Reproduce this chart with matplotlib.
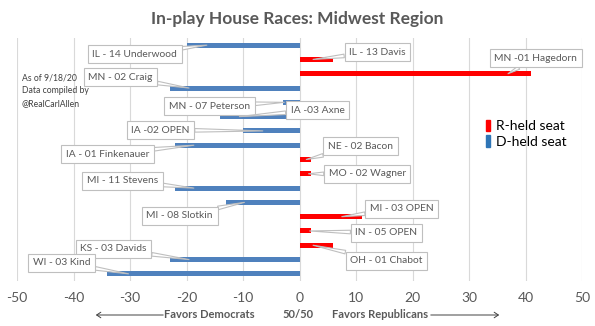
import numpy as np
import matplotlib
matplotlib.use("Agg")
import matplotlib.pyplot as plt
from matplotlib.patches import Patch, FancyArrowPatch

# races listed top to bottom as in the chart
races = [
    "IL - 14 Underwood", "IL - 13 Davis", "MN -01 Hagedorn", "MN - 02 Craig",
    "MN - 07 Peterson", "IA -03 Axne", "IA -02 OPEN", "IA - 01 Finkenauer",
    "NE - 02 Bacon", "MO - 02 Wagner", "MI - 11 Stevens", "MI - 08 Slotkin",
    "MI - 03 OPEN", "IN - 05 OPEN", "OH - 01 Chabot", "KS - 03 Davids",
    "WI - 03 Kind",
]
margins = [-20, 6, 41, -23, -3, -14, -10, -22, 2, 2, -22, -13, 11, 2, 6, -23, -34]
held = ["D", "R", "R", "D", "D", "D", "D", "D", "R", "R", "D", "D", "R", "R", "R", "D", "D"]
xticks = [-50, -40, -30, -20, -10, 0, 10, 20, 30, 40, 50]

# callout layout (box centre in data units, pointer as fraction of bar length)
box_xy = [
    (-29.2, 0.63), (13.8, 0.49), (41.8, 0.91), (-31.7, 2.24),
    (-15.9, 4.26), (3.2, 4.54), (-24.6, 5.94), (-34.0, 7.62),
    (10.8, 7.06), (12.0, 9.01), (-31.3, 9.50), (-21.2, 11.95),
    (18.1, 11.46), (15.4, 13.14), (15.4, 15.09), (-32.9, 14.26),
    (-42.1, 15.23),
]
point_frac = [0.82, 0.4, 0.9, 0.85, 0.9, 0.76, 0.65, 0.85,
              0.6, 0.8, 0.85, 0.75, 0.68, 0.9, 0.4, 0.85, 0.89]

RED = "#ff0000"
BLUE = "#4f81bd"
GREY = "#595959"
colors = {"R": RED, "D": BLUE}

plt.rcParams["font.family"] = ["Lato", "DejaVu Sans"]

fig = plt.figure(figsize=(5.95, 3.26), dpi=100)
ax = fig.add_axes([17 / 595, 1 - 281 / 326, 565 / 595, 243 / 326])

y = np.arange(len(races))
ax.barh(y, margins, height=0.35, color=[colors[h] for h in held], zorder=2)

ax.set_xlim(-50, 50)
ax.set_ylim(len(races) - 0.5, -0.5)
ax.set_xticks(xticks)
ax.set_xticklabels([str(t) for t in xticks], fontsize=10, color=GREY)
ax.set_yticks([])
ax.tick_params(axis="x", length=0, pad=8)
ax.grid(axis="x", color="#d9d9d9", lw=0.8, zorder=0)
for s in ax.spines.values():
    s.set_visible(False)

for i, name in enumerate(races):
    ax.annotate(
        name, xy=(margins[i] * point_frac[i], i), xytext=box_xy[i],
        ha="center", va="center", fontsize=7.4, color=GREY, zorder=5,
        bbox=dict(boxstyle="square,pad=0.45", fc="white", ec="#bfbfbf", lw=0.8),
        arrowprops=dict(arrowstyle="wedge,tail_width=0.35", fc="white",
                        ec="#bfbfbf", lw=0.8, shrinkA=0, shrinkB=0),
    )

fig.text(0.5, 1 - 19 / 326, "In-play House Races: Midwest Region",
         ha="center", va="center", fontsize=12.5, fontweight="bold", color=GREY)

fig.text(22 / 595, 1 - 91 / 326, "As of 9/18/20\nData compiled by\n@RealCarlAllen",
         ha="left", va="center", fontsize=6.2, color="#404040", linespacing=1.5)

leg = fig.legend(
    handles=[Patch(color=RED), Patch(color="#2e75b6")],
    labels=["R-held seat", "D-held seat"],
    loc="upper left", bbox_to_anchor=(476 / 595, 1 - 110 / 326),
    frameon=False, handlelength=0.3, handleheight=0.9,
    handletextpad=0.45, labelspacing=0.22, borderpad=0.2,
    prop={"size": 10},
)
for t in leg.get_texts():
    t.set_color("#000000")

# bottom direction labels
by = 1 - 315 / 326
fig.text(255 / 595, by, "Favors Democrats", ha="right", va="center",
         fontsize=8, fontweight="bold", color=GREY)
fig.text(298 / 595, by, "50/50", ha="center", va="center",
         fontsize=8, fontweight="bold", color=GREY)
fig.text(332 / 595, by, "Favors Republicans", ha="left", va="center",
         fontsize=8, fontweight="bold", color=GREY)
fig.add_artist(FancyArrowPatch(
    (166 / 595, by), (93 / 595, by), transform=fig.transFigure,
    arrowstyle="->,head_length=3,head_width=2", color="#404040", lw=0.7))
fig.add_artist(FancyArrowPatch(
    (428 / 595, by), (502 / 595, by), transform=fig.transFigure,
    arrowstyle="->,head_length=3,head_width=2", color="#404040", lw=0.7))

fig.savefig("out.png", dpi=100)
